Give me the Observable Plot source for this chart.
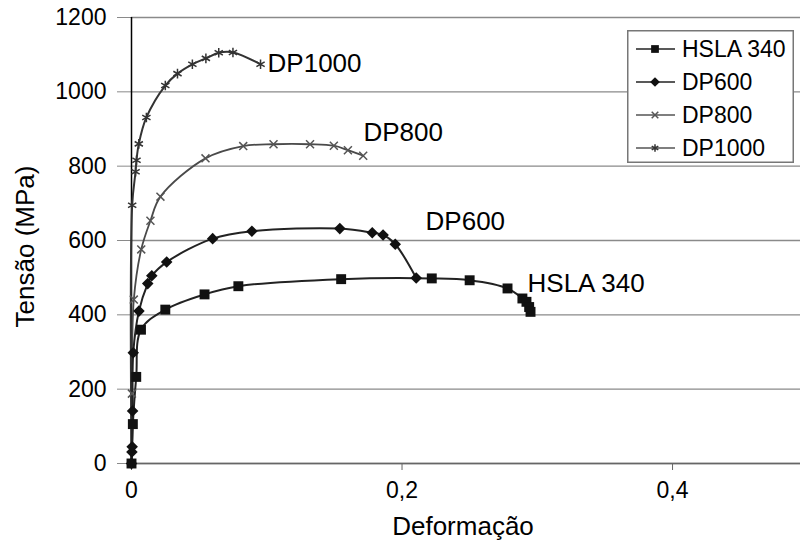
<!DOCTYPE html>
<html><head><meta charset="utf-8">
<script src="https://cdn.jsdelivr.net/npm/d3@7"></script>
<script src="https://cdn.jsdelivr.net/npm/@observablehq/plot@0.6"></script>
<style>
body{margin:0;background:#fff;}
#wrap{position:relative;width:800px;height:546px;font-family:"Liberation Sans",Arial,sans-serif;}
#legend{position:absolute;left:627px;top:30px;}
svg{overflow:visible;}
</style></head><body><div id="wrap"></div>
<script>
// ---- data ----
const seriesNames = ["HSLA 340", "DP600", "DP800", "DP1000"];

const hslaX = [0, 0.001, 0.0035, 0.007, 0.025, 0.054, 0.079, 0.155, 0.222, 0.250, 0.278, 0.289, 0.292, 0.294, 0.295];
const hslaY = [0, 106, 233, 360, 414, 455, 477, 496, 498, 493, 471, 444, 435, 421, 408];

const dp600X = [0, 0.0003, 0.0005, 0.0008, 0.0013, 0.0055, 0.012, 0.015, 0.026, 0.060, 0.089, 0.154, 0.178, 0.186, 0.195, 0.2105];
const dp600Y = [0, 31, 45, 141, 298, 410, 484, 505, 542, 605, 625, 632, 621, 615, 590, 499];

const dp800X = [0, 0.0003, 0.0017, 0.0072, 0.014, 0.0214, 0.0547, 0.0826, 0.105, 0.132, 0.1496, 0.160, 0.1713];
const dp800Y = [0, 188, 441, 576, 653, 718, 821, 854, 859, 859, 855, 843, 828];

const dp1000X = [0, 0.0005, 0.003, 0.0037, 0.0054, 0.011, 0.025, 0.034, 0.045, 0.055, 0.0645, 0.075, 0.0954];
const dp1000Y = [0, 695, 785, 816, 860, 931, 1017, 1049, 1074, 1090, 1105, 1106, 1074];

// curve end labels
const labelText = ["DP1000", "DP800", "DP600", "HSLA 340"];
const labelX = [0.1006, 0.1715, 0.2174, 0.2928];
const labelY = [1077, 889, 652, 485];

const xTicks = [0, 0.2, 0.4];
const yTicks = [0, 200, 400, 600, 800, 1000, 1200];
const xTitle = "Deformação";
const yTitle = "Tensão (MPa)";

// ---- build tables ----
const pts = (xs, ys) => xs.map((x, i) => ({x, y: ys[i]}));
const hsla = pts(hslaX, hslaY);
const dp600 = pts(dp600X, dp600Y);
const dp800 = pts(dp800X, dp800Y);
const dp1000 = pts(dp1000X, dp1000Y);
const labels = labelText.map((t, i) => ({t, x: labelX[i], y: labelY[i]}));

const lineOpts = (c, w) => ({x: "x", y: "y", stroke: c, strokeWidth: w, curve: "catmull-rom"});

const chart = Plot.plot({
  width: 800, height: 546,
  marginLeft: 131, marginRight: 0, marginTop: 17, marginBottom: 83,
  style: {fontFamily: "Liberation Sans, Arial, sans-serif", fontSize: "22px", color: "#000", background: "#fff", overflow: "visible"},
  x: {domain: [0, 0.4946]},
  y: {domain: [0, 1200]},
  marks: [
    Plot.gridY(yTicks, {stroke: "#8a8a8a", strokeOpacity: 1, strokeWidth: 1.3}),
    Plot.axisY(yTicks, {tickSize: 14, tickPadding: 11, stroke: "#8a8a8a", fill: "#000", fontSize: 23, tickFormat: d => String(d), label: null}),
    Plot.axisX(xTicks, {tickSize: 7, tickPadding: 11, stroke: "#666", fill: "#000", fontSize: 23, tickFormat: d => String(d).replace(".", ","), label: null}),
    Plot.ruleY([0], {stroke: "#666", strokeWidth: 1.6}),
    Plot.ruleX([0], {stroke: "#000", strokeWidth: 1.5}),
    Plot.line(dp800, lineOpts("#4a4a4a", 1.8)),
    Plot.line(dp1000, lineOpts("#333", 2)),
    Plot.line(hsla, lineOpts("#222", 2)),
    Plot.line(dp600, lineOpts("#222", 2)),
    Plot.dot(dp800, {x: "x", y: "y", symbol: "times", r: 3.7, stroke: "#555", strokeWidth: 1.5, fill: "none"}),
    Plot.dot(dp1000, {x: "x", y: "y", symbol: "asterisk", r: 4.5, stroke: "#333", strokeWidth: 1.5, fill: "none"}),
    Plot.dot(hsla, {x: "x", y: "y", symbol: "square", r: 5.6, fill: "#111", stroke: "none"}),
    Plot.dot(dp600, {x: "x", y: "y", symbol: "diamond2", r: 5.2, fill: "#111", stroke: "none"}),
    Plot.text(labels, {x: "x", y: "y", text: "t", textAnchor: "start", fontSize: 26, fill: "#000"}),
    Plot.text([xTitle], {frameAnchor: "bottom", textAnchor: "middle", lineAnchor: "middle", dx: -3, dy: 63, fontSize: 26, fill: "#000"}),
    Plot.text([yTitle], {frameAnchor: "left", textAnchor: "middle", lineAnchor: "middle", rotate: -90, dx: -106, dy: 6, fontSize: 26, fill: "#000"})
  ]
});
document.getElementById("wrap").appendChild(chart);

// ---- legend ----
const legSymbols = [
  {type: d3.symbolSquare, size: 60, fill: "#111", stroke: "none"},
  {type: d3.symbolDiamond2, size: 60, fill: "#111", stroke: "none"},
  {type: d3.symbolTimes, size: 30, fill: "none", stroke: "#555"},
  {type: d3.symbolAsterisk, size: 40, fill: "none", stroke: "#333"}
];
const lsvg = d3.select("#wrap").append("div").attr("id", "legend")
  .append("svg").attr("width", 167).attr("height", 133);
lsvg.append("rect").attr("x", 0.75).attr("y", 0.75).attr("width", 165.5).attr("height", 131.5)
  .attr("fill", "#fff").attr("stroke", "#777").attr("stroke-width", 1.5);
seriesNames.forEach((name, i) => {
  const cy = 19 + i * 33;
  const g = lsvg.append("g");
  g.append("line").attr("x1", 9).attr("x2", 48).attr("y1", cy).attr("y2", cy)
    .attr("stroke", i < 2 ? "#222" : "#555").attr("stroke-width", 1.6);
  const s = legSymbols[i];
  g.append("path").attr("d", d3.symbol(s.type, s.size)()).attr("transform", `translate(28,${cy})`)
    .attr("fill", s.fill).attr("stroke", s.stroke).attr("stroke-width", 1.5);
  g.append("text").attr("x", 55).attr("y", cy).attr("dy", "0.35em")
    .attr("font-size", 23).attr("font-family", "Liberation Sans, Arial, sans-serif").attr("fill", "#000").text(name);
});
</script>
</body></html>
